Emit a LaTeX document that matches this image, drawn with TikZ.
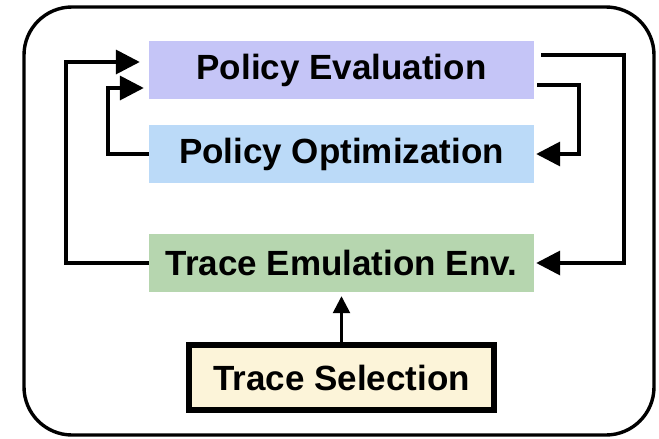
\documentclass[tikz,border=0pt]{standalone}
\usepackage{fontspec}
\setmainfont{Liberation Sans}
\usetikzlibrary{arrows.meta,calc}

\definecolor{evalfill}{HTML}{C5C5F7}
\definecolor{optfill}{HTML}{BBDAF8}
\definecolor{emufill}{HTML}{B6D6AF}
\definecolor{selfill}{HTML}{FCF4D9}

\tikzset{
  stage/.style={minimum width=385pt, minimum height=58pt, inner sep=0pt,
    font=\bfseries\fontsize{35}{42}\selectfont},
  selbox/.style={draw=black, line width=5.5pt, fill=selfill,
    minimum width=305pt, minimum height=65pt, inner sep=0pt,
    font=\bfseries\fontsize{35}{42}\selectfont},
  arr/.style={line width=3.6pt, -{Triangle[length=24pt,width=24pt]}},
  uparr/.style={line width=2.6pt, -{Triangle[length=17pt,width=17pt]}},
}

\begin{document}
\begin{tikzpicture}[x=1pt, y=-1pt]
  \useasboundingbox (0,0) rectangle (659,439);

  % outer frame
  \draw[line width=3.4pt, rounded corners=48pt] (24,7) rectangle (654,435);

  % stages
  \node[stage, fill=evalfill] (pe) at (341.5,70) {Policy Evaluation};
  \node[stage, fill=optfill]  (po) at (341.5,154) {Policy Optimization};
  \node[stage, fill=emufill]  (te) at (341.5,263) {Trace Emulation Env.};
  \node[selbox] (ts) at (341.5,377.5) {Trace Selection};

  % feedback loops on the left
  \draw[arr] (te.west) -- ++(-83,0) |- ([xshift=-9pt,yshift=8pt]pe.west);
  \draw[arr] (po.west) -- ++(-41,0) |- ([xshift=-5pt,yshift=-18pt]pe.west);

  % outputs of the evaluation on the right
  \draw[arr] ([xshift=7pt,yshift=15pt]pe.east) -- ++(83,0) |- ([xshift=2pt]te.east);
  \draw[arr] ([xshift=3pt,yshift=-15pt]pe.east) -- ++(42,0) |- ([xshift=2pt]po.east);

  % selected traces feed the emulator
  \draw[uparr] (ts.north) -- ([yshift=-4pt]te.south);
\end{tikzpicture}
\end{document}
